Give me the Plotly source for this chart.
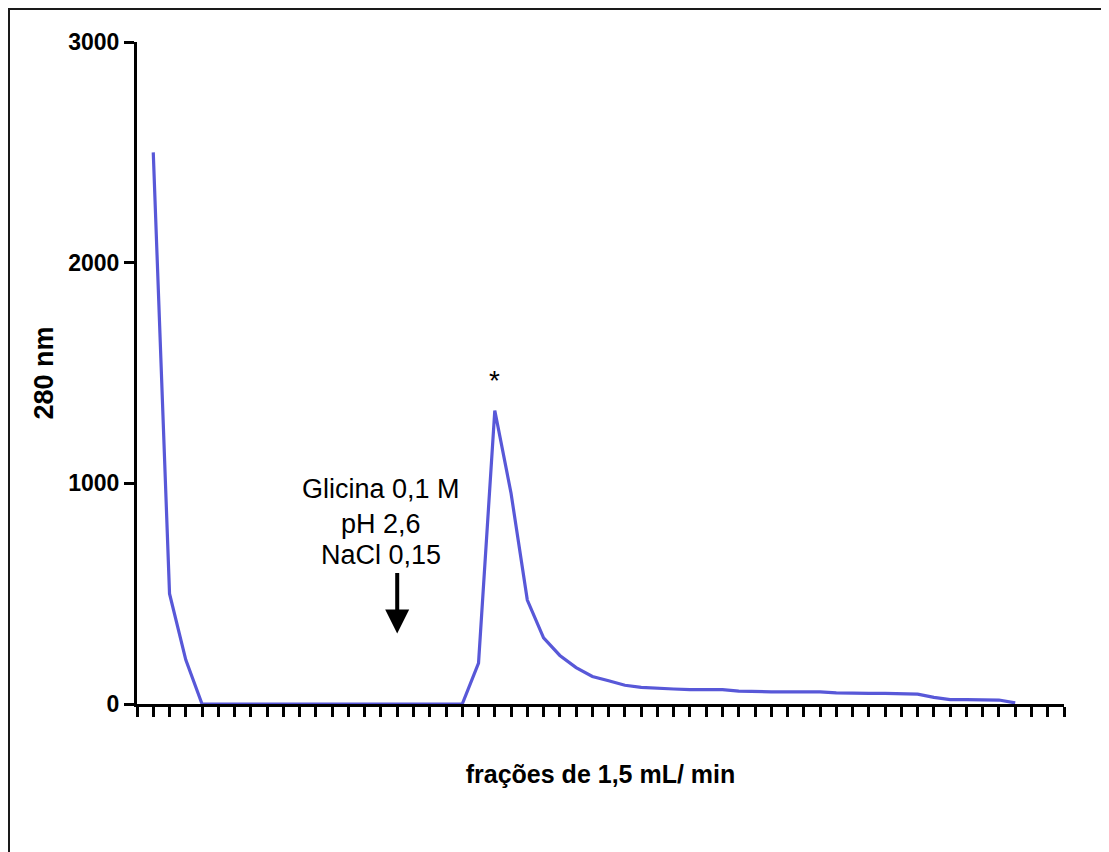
import plotly.graph_objects as go

fractions = list(range(1, 55))
absorbance = [2500, 500, 200] + [0] * 17 + [
    185, 1330, 955, 471, 300, 220, 165, 125, 105, 85,
    75, 70, 68, 65, 65, 65, 58, 55, 55, 55,
    55, 55, 50, 48, 48, 48, 45, 45, 30, 20,
    20, 20, 18, 5]

y_ticks = [0, 1000, 2000, 3000]
x_title = "frações de 1,5 mL/ min"
y_title = "280 nm"
note_lines = ["Glicina 0,1 M", "pH 2,6", "NaCl 0,15"]
note_y = [975, 815, 675]

FONT = "Arial, Liberation Sans, sans-serif"
# page has an 8px body margin; figure sized to fit the 1109x852 window
W, H = 1101, 844
ML, MR, MT, MB = 129, 45, 34, 148

fig = go.Figure()
fig.add_trace(go.Scatter(
    x=fractions, y=absorbance, mode="lines",
    line=dict(color="#5858D8", width=3.2),
    showlegend=False, hoverinfo="x+y"))

for txt, yy in zip(note_lines, note_y):
    fig.add_annotation(x=15, y=yy, text=txt, showarrow=False,
                       font=dict(family=FONT, size=27, color="#000"),
                       xanchor="center", yanchor="middle", align="center")
fig.add_annotation(x=16, y=320, ax=16, ay=600, axref="x", ayref="y",
                   text="", showarrow=True, arrowhead=2, arrowsize=1.2,
                   arrowwidth=4, arrowcolor="#000")
fig.add_annotation(x=22, y=1465, text="*", showarrow=False,
                   font=dict(family=FONT, size=28, color="#000"),
                   xanchor="center", yanchor="middle")

pw = W - ML - MR
ph = H - MT - MB
fig.add_shape(type="rect", xref="paper", yref="paper",
              x0=(1 - ML) / pw, x1=1.2, y0=-0.4, y1=(H - MB - 1) / ph,
              line=dict(color="#1a1a1a", width=2), fillcolor="rgba(0,0,0,0)")

fig.update_layout(
    width=W, height=H,
    margin=dict(l=ML, r=MR, t=MT, b=MB),
    paper_bgcolor="white", plot_bgcolor="white",
    font=dict(family=FONT, color="#000"),
    xaxis=dict(range=[0, 57], tick0=0, dtick=1, showticklabels=False,
               ticks="outside", ticklen=10, tickwidth=3, tickcolor="#000",
               showline=True, linewidth=3, linecolor="#000",
               showgrid=False, zeroline=False,
               title=dict(text="<b>" + x_title + "</b>", standoff=50,
                          font=dict(family=FONT, size=25))),
    yaxis=dict(range=[0, 3000], tickvals=y_ticks,
               ticktext=["<b>%d</b>" % v for v in y_ticks],
               ticks="outside", ticklen=10, tickwidth=3, tickcolor="#000",
               tickfont=dict(family=FONT, size=23),
               showline=True, linewidth=3, linecolor="#000",
               showgrid=False, zeroline=False,
               title=dict(text="<b>" + y_title + "</b>", standoff=7,
                          font=dict(family=FONT, size=27))),
)

fig.write_html("out.html")
